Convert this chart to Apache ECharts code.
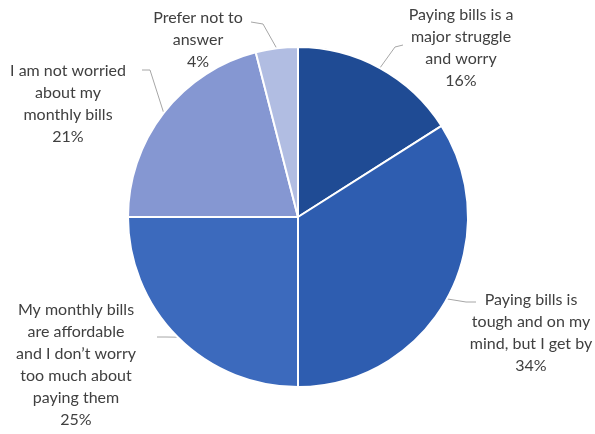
<!DOCTYPE html>
<html lang="en">
<head>
<meta charset="UTF-8">
<title>Monthly bills</title>
<script src="https://cdn.jsdelivr.net/npm/echarts@6/dist/echarts.min.js"></script>
<style>
  html, body { margin: 0; padding: 0; background: #fff; }
  #chart { width: 595px; height: 434px; }
</style>
</head>
<body>
<div id="chart"></div>
<script>
var categories = [
  'Paying bills is a\nmajor struggle\nand worry',
  'Paying bills is\ntough and on my\nmind, but I get by',
  'My monthly bills\nare affordable\nand I don\u2019t worry\ntoo much about\npaying them',
  'I am not worried\nabout my\nmonthly bills',
  'Prefer not to\nanswer'
];
var values = [16, 34, 25, 21, 4];
var colors = ['#1f4b94', '#2e5db0', '#3c6abd', '#8597d2', '#b1bde2'];

// label block centres
var labelPos = [
  { x: 461, y: 48 },
  { x: 531, y: 333 },
  { x: 76, y: 365 },
  { x: 68, y: 104 },
  { x: 198, y: 40 }
];
// leader line: bend point and end point
var leader = [
  [[395, 47], [403, 45]],
  [[466, 302], [476, 302]],
  [[166, 337], [157, 337]],
  [[150, 70], [142, 70]],
  [[263, 24], [251, 22]]
];

var data = categories.map(function (c, i) {
  return { name: c, value: values[i], itemStyle: { color: colors[i] } };
});

var chart = echarts.init(document.getElementById('chart'));
chart.setOption({
  animation: false,
  series: [{
    type: 'pie',
    center: [298, 217],
    radius: [0, 170],
    startAngle: 90,
    clockwise: true,
    data: data,
    itemStyle: { borderColor: '#fff', borderWidth: 2 },
    label: {
      show: true,
      formatter: '{b}\n{d}%',
      color: '#404040',
      fontFamily: 'Lato',
      fontSize: 16,
      lineHeight: 22,
      align: 'center',
      overflow: 'none'
    },
    labelLine: {
      show: true,
      length: 10,
      length2: 10,
      lineStyle: { color: '#a6a6a6', width: 1 }
    },
    labelLayout: function (params) {
      var i = params.dataIndex;
      var p = labelPos[i];
      var start = params.labelLinePoints ? params.labelLinePoints[0] : null;
      var out = {
        x: p.x,
        y: p.y,
        align: 'center',
        verticalAlign: 'middle',
        width: 200
      };
      if (start) {
        out.labelLinePoints = [start, leader[i][0], leader[i][1]];
      }
      return out;
    }
  }]
});
</script>
</body>
</html>
